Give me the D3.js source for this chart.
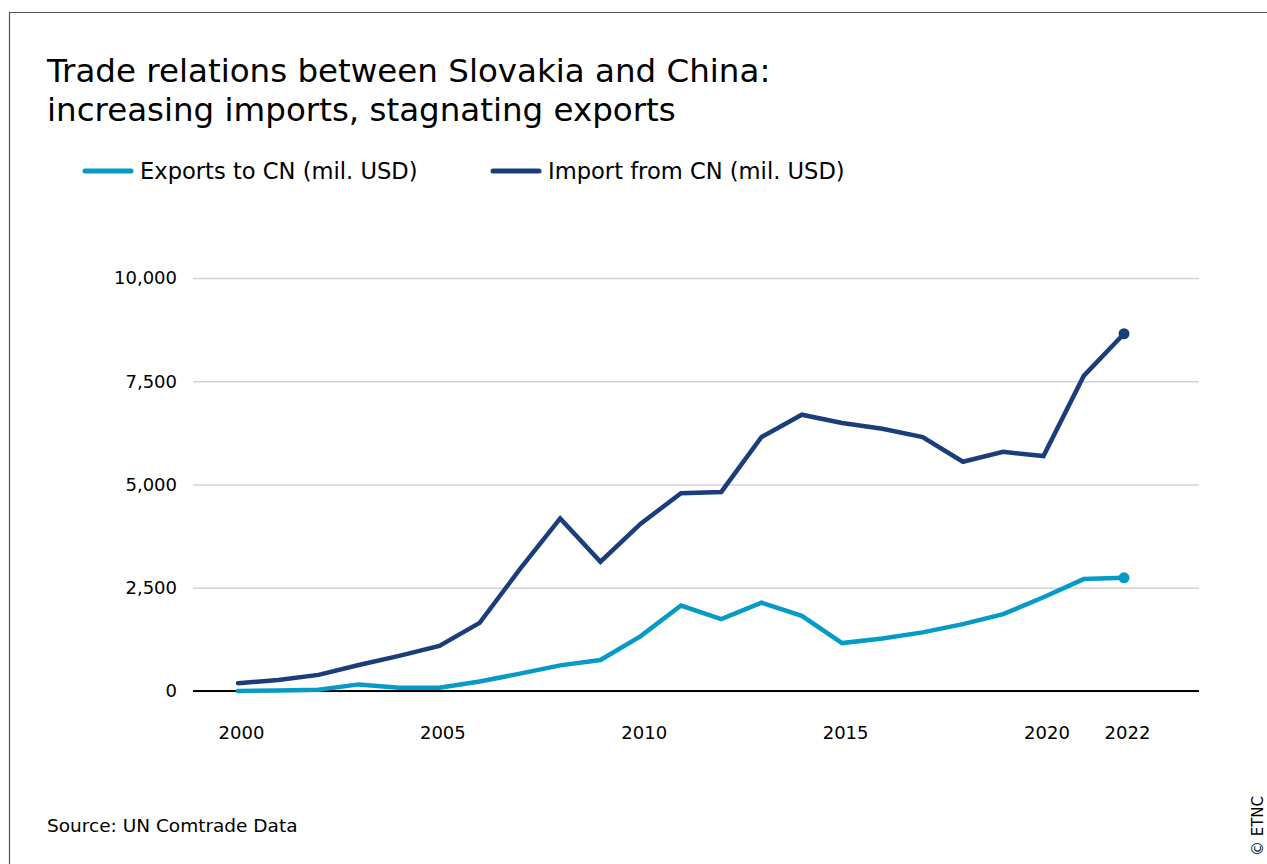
<!DOCTYPE html>
<html>
<head>
<meta charset="utf-8">
<script src="https://cdn.jsdelivr.net/npm/d3@7"></script>
<style>
  body { margin: 0; background: #fff; }
  svg { display: block; font-family: Tahoma, "DejaVu Sans", sans-serif; }
</style>
</head>
<body>
<div id="chart"></div>
<script>
// values (mil. USD)
var years = [2000, 2001, 2002, 2003, 2004, 2005, 2006, 2007, 2008, 2009, 2010, 2011,
             2012, 2013, 2014, 2015, 2016, 2017, 2018, 2019, 2020, 2021, 2022];
var exportsCN = [0, 15, 30, 160, 80, 80, 230, 420, 620, 750, 1330, 2070,
                 1740, 2140, 1820, 1160, 1270, 1420, 1620, 1860, 2270, 2710, 2740];
var importsCN = [190, 265, 390, 630, 850, 1090, 1650, 2950, 4180, 3130, 4050, 4790,
                 4820, 6150, 6690, 6490, 6350, 6150, 5550, 5790, 5690, 7630, 8650];
var xTicks = [2000, 2005, 2010, 2015, 2020, 2022];
var yTicks = [0, 2500, 5000, 7500, 10000];
var seriesNames = ['Exports to CN (mil. USD)', 'Import from CN (mil. USD)'];

var W = 1267, H = 864;
var colors = { exp: '#069ac6', imp: '#1b3e7a' };

var svg = d3.select('#chart').append('svg')
  .attr('width', W)
  .attr('height', H);

var x = d3.scaleLinear().domain([2000, 2022]).range([238, 1124]),
    y = d3.scaleLinear().domain([0, 10000]).range([691, 278]);

// frame
svg.append('path')
  .attr('d', 'M9.5,' + H + 'V12.5H' + W)
  .attr('fill', 'none')
  .attr('stroke', '#555')
  .attr('stroke-width', 1.2);

// title
var title = svg.append('text')
  .attr('x', 47)
  .attr('font-size', 32.5)
  .attr('fill', '#000');
title.append('tspan').attr('x', 47).attr('y', 82).text('Trade relations between Slovakia and China:');
title.append('tspan').attr('x', 47).attr('y', 121).text('increasing imports, stagnating exports');

// legend
var legend = svg.append('g');
[{ x0: 85, c: colors.exp, t: seriesNames[0] }, { x0: 493, c: colors.imp, t: seriesNames[1] }]
  .forEach(function(d) {
    legend.append('line')
      .attr('x1', d.x0).attr('x2', d.x0 + 46)
      .attr('y1', 171).attr('y2', 171)
      .attr('stroke', d.c)
      .attr('stroke-width', 5)
      .attr('stroke-linecap', 'round');
    legend.append('text')
      .attr('x', d.x0 + 55)
      .attr('y', 171)
      .attr('dy', '0.35em')
      .attr('font-size', 22.6)
      .text(d.t);
  });

// y axis + grid
var yAxis = svg.append('g')
  .attr('transform', 'translate(193,0)')
  .call(d3.axisLeft(y)
    .tickValues(yTicks)
    .tickSize(-1006)
    .tickPadding(16)
    .tickFormat(d3.format(',')));
yAxis.attr('font-family', null).attr('font-size', 18);
yAxis.select('.domain').remove();
yAxis.selectAll('.tick line')
  .attr('stroke', '#d4d4d4')
  .attr('stroke-width', 1.5);
yAxis.selectAll('.tick text')
  .attr('fill', '#000');

// zero line
svg.append('line')
  .attr('x1', 193).attr('x2', 1199)
  .attr('y1', y(0)).attr('y2', y(0))
  .attr('stroke', '#000')
  .attr('stroke-width', 2);

// x axis labels
var xAxis = svg.append('g')
  .attr('transform', 'translate(3,' + y(0) + ')')
  .call(d3.axisBottom(x)
    .tickValues(xTicks)
    .tickSize(0)
    .tickPadding(35)
    .tickFormat(d3.format('d')));
xAxis.attr('font-family', null).attr('font-size', 18);
xAxis.select('.domain').remove();
xAxis.selectAll('.tick text')
  .attr('fill', '#000');

// lines
var line = d3.line()
  .x(function(d) { return x(d[0]); })
  .y(function(d) { return y(d[1]); });

var series = [
  { c: colors.imp, v: importsCN },
  { c: colors.exp, v: exportsCN }
];
series.forEach(function(s) {
  var pts = years.map(function(yr, i) { return [yr, s.v[i]]; });
  svg.append('path')
    .datum(pts)
    .attr('d', line)
    .attr('fill', 'none')
    .attr('stroke', s.c)
    .attr('stroke-width', 4.5)
    .attr('stroke-linejoin', 'miter')
    .attr('stroke-linecap', 'round');
  var last = pts[pts.length - 1];
  svg.append('circle')
    .attr('cx', x(last[0]))
    .attr('cy', y(last[1]))
    .attr('r', 5.5)
    .attr('fill', s.c);
});

// source + copyright
svg.append('text')
  .attr('x', 47)
  .attr('y', 826)
  .attr('dy', '0.35em')
  .attr('font-size', 18.5)
  .text('Source: UN Comtrade Data');

svg.append('text')
  .attr('transform', 'translate(1258,826) rotate(-90)')
  .attr('text-anchor', 'middle')
  .attr('dy', '0.35em')
  .attr('font-size', 15)
  .text('© ETNC');
</script>
</body>
</html>
